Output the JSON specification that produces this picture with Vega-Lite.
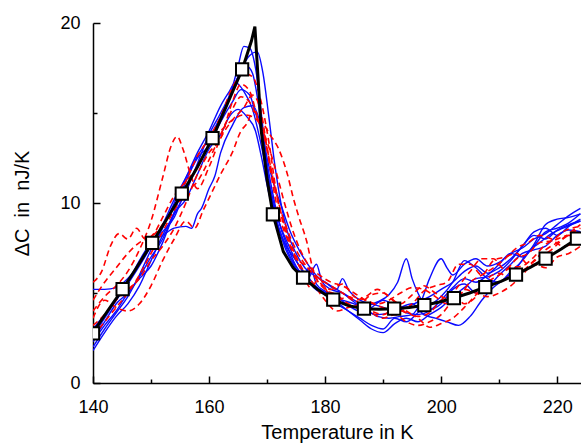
{
"$schema":"https://vega.github.io/schema/vega-lite/v6.json",
"width":488,"height":360,
"autosize":{"type":"none"},
"padding":{"left":93,"top":23,"right":0,"bottom":61},
"config":{"view":{"stroke":null},"axis":{"grid":false,"domainColor":"black","domainWidth":1.5,"tickColor":"black","tickWidth":1.5,"labelFont":"Liberation Sans","labelFontSize":18,"labelColor":"black","titleFont":"Liberation Sans","titleFontSize":20,"titleFontWeight":"normal","titleColor":"black"}},
"datasets":{
"curves":[
{"run":"b1","set":"A","T":140,"C":5.2},{"run":"b1","set":"A","T":142,"C":5.2},{"run":"b1","set":"A","T":144,"C":5.3},{"run":"b1","set":"A","T":146,"C":5.8},{"run":"b1","set":"A","T":148,"C":6.6},{"run":"b1","set":"A","T":150,"C":7.6},{"run":"b1","set":"A","T":152,"C":8.4},{"run":"b1","set":"A","T":154,"C":9.2},{"run":"b1","set":"A","T":156,"C":10.8},{"run":"b1","set":"A","T":158,"C":12.0},{"run":"b1","set":"A","T":160,"C":13.3},{"run":"b1","set":"A","T":162,"C":14.6},{"run":"b1","set":"A","T":164,"C":16.3},{"run":"b1","set":"A","T":165.5,"C":17.3},{"run":"b1","set":"A","T":166.5,"C":17.6},{"run":"b1","set":"A","T":167.5,"C":17.2},{"run":"b1","set":"A","T":168.5,"C":15.5},{"run":"b1","set":"A","T":169.5,"C":13.0},{"run":"b1","set":"A","T":170.5,"C":10.8},{"run":"b1","set":"A","T":171.5,"C":9.2},{"run":"b1","set":"A","T":173,"C":7.6},{"run":"b1","set":"A","T":174.5,"C":6.6},{"run":"b1","set":"A","T":176,"C":6.0},{"run":"b1","set":"A","T":177.5,"C":6.4},{"run":"b1","set":"A","T":178.5,"C":5.5},{"run":"b1","set":"A","T":180,"C":5.1},{"run":"b1","set":"A","T":182,"C":4.8},{"run":"b1","set":"A","T":184,"C":4.3},{"run":"b1","set":"A","T":186,"C":4.0},{"run":"b1","set":"A","T":188,"C":4.2},{"run":"b1","set":"A","T":190,"C":4.6},{"run":"b1","set":"A","T":192,"C":4.3},{"run":"b1","set":"A","T":194,"C":3.9},{"run":"b1","set":"A","T":196,"C":3.8},{"run":"b1","set":"A","T":198,"C":4.0},{"run":"b1","set":"A","T":200,"C":4.6},{"run":"b1","set":"A","T":202,"C":5.3},{"run":"b1","set":"A","T":204,"C":5.8},{"run":"b1","set":"A","T":206,"C":5.6},{"run":"b1","set":"A","T":208,"C":6.0},{"run":"b1","set":"A","T":210,"C":6.6},{"run":"b1","set":"A","T":212,"C":7.2},{"run":"b1","set":"A","T":214,"C":7.0},{"run":"b1","set":"A","T":216,"C":7.6},{"run":"b1","set":"A","T":218,"C":8.4},{"run":"b1","set":"A","T":220,"C":8.6},{"run":"b1","set":"A","T":222,"C":8.9},{"run":"b1","set":"A","T":224,"C":9.4},

{"run":"b2","set":"A","T":140,"C":1.8},{"run":"b2","set":"A","T":142,"C":2.8},{"run":"b2","set":"A","T":144,"C":3.7},{"run":"b2","set":"A","T":146,"C":4.4},{"run":"b2","set":"A","T":148,"C":5.4},{"run":"b2","set":"A","T":150,"C":6.8},{"run":"b2","set":"A","T":152,"C":8.2},{"run":"b2","set":"A","T":154,"C":9.4},{"run":"b2","set":"A","T":156,"C":10.6},{"run":"b2","set":"A","T":158,"C":12.2},{"run":"b2","set":"A","T":160,"C":13.8},{"run":"b2","set":"A","T":162,"C":15.0},{"run":"b2","set":"A","T":164,"C":16.4},{"run":"b2","set":"A","T":165,"C":17.6},{"run":"b2","set":"A","T":166,"C":18.7},{"run":"b2","set":"A","T":167,"C":18.6},{"run":"b2","set":"A","T":168,"C":17.5},{"run":"b2","set":"A","T":169,"C":15.0},{"run":"b2","set":"A","T":170,"C":12.0},{"run":"b2","set":"A","T":171,"C":10.0},{"run":"b2","set":"A","T":172,"C":8.6},{"run":"b2","set":"A","T":173.5,"C":7.5},{"run":"b2","set":"A","T":175,"C":6.8},{"run":"b2","set":"A","T":176.5,"C":6.0},{"run":"b2","set":"A","T":178,"C":5.3},{"run":"b2","set":"A","T":180,"C":4.9},{"run":"b2","set":"A","T":182,"C":4.5},{"run":"b2","set":"A","T":184,"C":4.0},{"run":"b2","set":"A","T":186,"C":3.5},{"run":"b2","set":"A","T":188,"C":3.0},{"run":"b2","set":"A","T":190,"C":2.8},{"run":"b2","set":"A","T":192,"C":3.3},{"run":"b2","set":"A","T":194,"C":3.6},{"run":"b2","set":"A","T":196,"C":3.4},{"run":"b2","set":"A","T":198,"C":3.8},{"run":"b2","set":"A","T":200,"C":4.2},{"run":"b2","set":"A","T":202,"C":4.8},{"run":"b2","set":"A","T":204,"C":5.3},{"run":"b2","set":"A","T":206,"C":5.8},{"run":"b2","set":"A","T":208,"C":5.9},{"run":"b2","set":"A","T":210,"C":6.2},{"run":"b2","set":"A","T":212,"C":6.8},{"run":"b2","set":"A","T":214,"C":7.6},{"run":"b2","set":"A","T":216,"C":8.2},{"run":"b2","set":"A","T":218,"C":8.0},{"run":"b2","set":"A","T":220,"C":8.5},{"run":"b2","set":"A","T":222,"C":8.8},{"run":"b2","set":"A","T":224,"C":9.0},

{"run":"b3","set":"A","T":140,"C":2.4},{"run":"b3","set":"A","T":142,"C":3.4},{"run":"b3","set":"A","T":144,"C":4.4},{"run":"b3","set":"A","T":146,"C":5.0},{"run":"b3","set":"A","T":148,"C":5.9},{"run":"b3","set":"A","T":150,"C":7.0},{"run":"b3","set":"A","T":152,"C":8.0},{"run":"b3","set":"A","T":154,"C":9.5},{"run":"b3","set":"A","T":156,"C":11.2},{"run":"b3","set":"A","T":158,"C":12.5},{"run":"b3","set":"A","T":160,"C":13.2},{"run":"b3","set":"A","T":162,"C":14.5},{"run":"b3","set":"A","T":164,"C":15.6},{"run":"b3","set":"A","T":165.5,"C":16.3},{"run":"b3","set":"A","T":167,"C":16.0},{"run":"b3","set":"A","T":168,"C":15.0},{"run":"b3","set":"A","T":169,"C":14.0},{"run":"b3","set":"A","T":170,"C":12.2},{"run":"b3","set":"A","T":171,"C":10.5},{"run":"b3","set":"A","T":172,"C":9.0},{"run":"b3","set":"A","T":173.5,"C":7.6},{"run":"b3","set":"A","T":175,"C":6.5},{"run":"b3","set":"A","T":177,"C":5.8},{"run":"b3","set":"A","T":178.5,"C":6.6},{"run":"b3","set":"A","T":179.5,"C":5.6},{"run":"b3","set":"A","T":181,"C":5.2},{"run":"b3","set":"A","T":183,"C":5.0},{"run":"b3","set":"A","T":185,"C":4.6},{"run":"b3","set":"A","T":187,"C":4.3},{"run":"b3","set":"A","T":189,"C":4.5},{"run":"b3","set":"A","T":191,"C":4.9},{"run":"b3","set":"A","T":192.5,"C":5.6},{"run":"b3","set":"A","T":194,"C":6.9},{"run":"b3","set":"A","T":195,"C":5.8},{"run":"b3","set":"A","T":196,"C":5.0},{"run":"b3","set":"A","T":198,"C":4.1},{"run":"b3","set":"A","T":200,"C":4.4},{"run":"b3","set":"A","T":202,"C":5.2},{"run":"b3","set":"A","T":204,"C":5.5},{"run":"b3","set":"A","T":206,"C":5.0},{"run":"b3","set":"A","T":208,"C":5.3},{"run":"b3","set":"A","T":210,"C":6.0},{"run":"b3","set":"A","T":212,"C":6.6},{"run":"b3","set":"A","T":214,"C":7.2},{"run":"b3","set":"A","T":216,"C":7.4},{"run":"b3","set":"A","T":218,"C":7.6},{"run":"b3","set":"A","T":220,"C":8.2},{"run":"b3","set":"A","T":222,"C":8.5},{"run":"b3","set":"A","T":224,"C":8.4},

{"run":"b4","set":"A","T":140,"C":3.0},{"run":"b4","set":"A","T":142,"C":3.8},{"run":"b4","set":"A","T":144,"C":4.6},{"run":"b4","set":"A","T":146,"C":5.6},{"run":"b4","set":"A","T":148,"C":6.8},{"run":"b4","set":"A","T":150,"C":7.8},{"run":"b4","set":"A","T":152,"C":8.2},{"run":"b4","set":"A","T":154,"C":8.6},{"run":"b4","set":"A","T":156,"C":8.7},{"run":"b4","set":"A","T":157,"C":8.6},{"run":"b4","set":"A","T":158,"C":9.4},{"run":"b4","set":"A","T":158.7,"C":9.7},{"run":"b4","set":"A","T":160,"C":10.8},{"run":"b4","set":"A","T":161,"C":11.5},{"run":"b4","set":"A","T":162,"C":12.8},{"run":"b4","set":"A","T":164,"C":14.3},{"run":"b4","set":"A","T":166,"C":15.3},{"run":"b4","set":"A","T":167.5,"C":15.4},{"run":"b4","set":"A","T":169,"C":14.2},{"run":"b4","set":"A","T":170,"C":12.5},{"run":"b4","set":"A","T":171,"C":11.2},{"run":"b4","set":"A","T":172.5,"C":9.8},{"run":"b4","set":"A","T":174,"C":8.4},{"run":"b4","set":"A","T":175.5,"C":7.4},{"run":"b4","set":"A","T":177,"C":6.6},{"run":"b4","set":"A","T":179,"C":5.8},{"run":"b4","set":"A","T":181,"C":5.4},{"run":"b4","set":"A","T":183,"C":5.0},{"run":"b4","set":"A","T":185,"C":4.5},{"run":"b4","set":"A","T":187,"C":4.0},{"run":"b4","set":"A","T":189,"C":3.8},{"run":"b4","set":"A","T":191,"C":3.9},{"run":"b4","set":"A","T":193,"C":4.2},{"run":"b4","set":"A","T":195,"C":4.4},{"run":"b4","set":"A","T":197,"C":3.8},{"run":"b4","set":"A","T":199,"C":3.6},{"run":"b4","set":"A","T":201,"C":3.4},{"run":"b4","set":"A","T":203,"C":3.2},{"run":"b4","set":"A","T":205,"C":3.7},{"run":"b4","set":"A","T":207,"C":4.6},{"run":"b4","set":"A","T":209,"C":5.3},{"run":"b4","set":"A","T":211,"C":5.8},{"run":"b4","set":"A","T":213,"C":6.4},{"run":"b4","set":"A","T":215,"C":7.3},{"run":"b4","set":"A","T":217,"C":7.8},{"run":"b4","set":"A","T":219,"C":8.3},{"run":"b4","set":"A","T":221,"C":8.6},{"run":"b4","set":"A","T":224,"C":9.0},

{"run":"b5","set":"A","T":140,"C":2.0},{"run":"b5","set":"A","T":142,"C":3.0},{"run":"b5","set":"A","T":144,"C":3.9},{"run":"b5","set":"A","T":146,"C":4.8},{"run":"b5","set":"A","T":148,"C":6.0},{"run":"b5","set":"A","T":150,"C":7.4},{"run":"b5","set":"A","T":152,"C":8.6},{"run":"b5","set":"A","T":154,"C":10.0},{"run":"b5","set":"A","T":156,"C":11.4},{"run":"b5","set":"A","T":158,"C":12.8},{"run":"b5","set":"A","T":160,"C":14.0},{"run":"b5","set":"A","T":162,"C":15.4},{"run":"b5","set":"A","T":163.5,"C":16.2},{"run":"b5","set":"A","T":164.5,"C":16.7},{"run":"b5","set":"A","T":166,"C":16.2},{"run":"b5","set":"A","T":167.5,"C":15.2},{"run":"b5","set":"A","T":169,"C":13.2},{"run":"b5","set":"A","T":170,"C":11.6},{"run":"b5","set":"A","T":171,"C":10.2},{"run":"b5","set":"A","T":172,"C":9.0},{"run":"b5","set":"A","T":173.5,"C":7.8},{"run":"b5","set":"A","T":175,"C":6.8},{"run":"b5","set":"A","T":177,"C":5.9},{"run":"b5","set":"A","T":179,"C":5.2},{"run":"b5","set":"A","T":181,"C":4.9},{"run":"b5","set":"A","T":183,"C":4.6},{"run":"b5","set":"A","T":185,"C":4.4},{"run":"b5","set":"A","T":187,"C":4.1},{"run":"b5","set":"A","T":189,"C":3.7},{"run":"b5","set":"A","T":191,"C":3.6},{"run":"b5","set":"A","T":193,"C":3.7},{"run":"b5","set":"A","T":195,"C":3.8},{"run":"b5","set":"A","T":196.5,"C":4.5},{"run":"b5","set":"A","T":198,"C":5.8},{"run":"b5","set":"A","T":200,"C":6.9},{"run":"b5","set":"A","T":201,"C":6.4},{"run":"b5","set":"A","T":202,"C":6.0},{"run":"b5","set":"A","T":204,"C":6.6},{"run":"b5","set":"A","T":206,"C":6.9},{"run":"b5","set":"A","T":208,"C":6.5},{"run":"b5","set":"A","T":210,"C":6.7},{"run":"b5","set":"A","T":212,"C":7.2},{"run":"b5","set":"A","T":214,"C":7.5},{"run":"b5","set":"A","T":216,"C":8.0},{"run":"b5","set":"A","T":218,"C":8.3},{"run":"b5","set":"A","T":220,"C":8.8},{"run":"b5","set":"A","T":222,"C":9.3},{"run":"b5","set":"A","T":224,"C":9.7},

{"run":"b6","set":"A","T":140,"C":2.6},{"run":"b6","set":"A","T":142,"C":3.6},{"run":"b6","set":"A","T":144,"C":4.6},{"run":"b6","set":"A","T":146,"C":5.5},{"run":"b6","set":"A","T":148,"C":6.5},{"run":"b6","set":"A","T":150,"C":7.6},{"run":"b6","set":"A","T":152,"C":8.8},{"run":"b6","set":"A","T":154,"C":10.2},{"run":"b6","set":"A","T":156,"C":11.4},{"run":"b6","set":"A","T":158,"C":12.6},{"run":"b6","set":"A","T":160,"C":13.6},{"run":"b6","set":"A","T":162,"C":14.8},{"run":"b6","set":"A","T":164,"C":16.2},{"run":"b6","set":"A","T":165.5,"C":17.4},{"run":"b6","set":"A","T":167,"C":18.2},{"run":"b6","set":"A","T":168.3,"C":18.4},{"run":"b6","set":"A","T":169.3,"C":17.2},{"run":"b6","set":"A","T":170.3,"C":14.8},{"run":"b6","set":"A","T":171.3,"C":12.2},{"run":"b6","set":"A","T":172.5,"C":9.8},{"run":"b6","set":"A","T":173.5,"C":8.4},{"run":"b6","set":"A","T":175,"C":7.2},{"run":"b6","set":"A","T":176.5,"C":6.4},{"run":"b6","set":"A","T":178,"C":6.0},{"run":"b6","set":"A","T":180,"C":5.6},{"run":"b6","set":"A","T":182,"C":5.2},{"run":"b6","set":"A","T":183,"C":5.8},{"run":"b6","set":"A","T":184,"C":5.2},{"run":"b6","set":"A","T":186,"C":4.6},{"run":"b6","set":"A","T":188,"C":4.4},{"run":"b6","set":"A","T":190,"C":4.2},{"run":"b6","set":"A","T":192,"C":4.0},{"run":"b6","set":"A","T":194,"C":4.2},{"run":"b6","set":"A","T":196,"C":4.5},{"run":"b6","set":"A","T":198,"C":4.8},{"run":"b6","set":"A","T":200,"C":5.2},{"run":"b6","set":"A","T":202,"C":5.6},{"run":"b6","set":"A","T":204,"C":6.2},{"run":"b6","set":"A","T":206,"C":6.5},{"run":"b6","set":"A","T":208,"C":6.1},{"run":"b6","set":"A","T":210,"C":6.4},{"run":"b6","set":"A","T":212,"C":6.9},{"run":"b6","set":"A","T":214,"C":7.6},{"run":"b6","set":"A","T":216,"C":8.4},{"run":"b6","set":"A","T":218,"C":8.6},{"run":"b6","set":"A","T":220,"C":8.2},{"run":"b6","set":"A","T":222,"C":8.7},{"run":"b6","set":"A","T":224,"C":9.1},

{"run":"b7","set":"A","T":140,"C":2.3},{"run":"b7","set":"A","T":142,"C":3.2},{"run":"b7","set":"A","T":144,"C":4.0},{"run":"b7","set":"A","T":146,"C":5.0},{"run":"b7","set":"A","T":148,"C":5.8},{"run":"b7","set":"A","T":150,"C":6.5},{"run":"b7","set":"A","T":152,"C":7.8},{"run":"b7","set":"A","T":154,"C":9.4},{"run":"b7","set":"A","T":156,"C":10.2},{"run":"b7","set":"A","T":158,"C":11.6},{"run":"b7","set":"A","T":160,"C":13.0},{"run":"b7","set":"A","T":162,"C":13.8},{"run":"b7","set":"A","T":163.5,"C":14.8},{"run":"b7","set":"A","T":165,"C":15.2},{"run":"b7","set":"A","T":166.5,"C":14.8},{"run":"b7","set":"A","T":168,"C":14.0},{"run":"b7","set":"A","T":169,"C":12.6},{"run":"b7","set":"A","T":170,"C":11.0},{"run":"b7","set":"A","T":171,"C":9.6},{"run":"b7","set":"A","T":172.5,"C":8.2},{"run":"b7","set":"A","T":174,"C":7.0},{"run":"b7","set":"A","T":176,"C":6.0},{"run":"b7","set":"A","T":178,"C":5.4},{"run":"b7","set":"A","T":180,"C":5.0},{"run":"b7","set":"A","T":182,"C":4.4},{"run":"b7","set":"A","T":184,"C":4.0},{"run":"b7","set":"A","T":186,"C":3.6},{"run":"b7","set":"A","T":188,"C":3.2},{"run":"b7","set":"A","T":190,"C":3.0},{"run":"b7","set":"A","T":192,"C":3.6},{"run":"b7","set":"A","T":194,"C":3.4},{"run":"b7","set":"A","T":196,"C":3.9},{"run":"b7","set":"A","T":198,"C":4.3},{"run":"b7","set":"A","T":200,"C":4.8},{"run":"b7","set":"A","T":202,"C":5.6},{"run":"b7","set":"A","T":204,"C":6.8},{"run":"b7","set":"A","T":206,"C":6.4},{"run":"b7","set":"A","T":208,"C":5.8},{"run":"b7","set":"A","T":210,"C":5.6},{"run":"b7","set":"A","T":212,"C":6.2},{"run":"b7","set":"A","T":214,"C":6.8},{"run":"b7","set":"A","T":216,"C":7.7},{"run":"b7","set":"A","T":218,"C":8.8},{"run":"b7","set":"A","T":220,"C":9.1},{"run":"b7","set":"A","T":222,"C":9.2},{"run":"b7","set":"A","T":224,"C":9.4},

{"run":"r1","set":"B","T":140,"C":4.0},{"run":"r1","set":"B","T":142,"C":4.8},{"run":"r1","set":"B","T":144,"C":5.4},{"run":"r1","set":"B","T":146,"C":6.2},{"run":"r1","set":"B","T":148,"C":7.4},{"run":"r1","set":"B","T":150,"C":9.0},{"run":"r1","set":"B","T":152,"C":11.4},{"run":"r1","set":"B","T":153.5,"C":13.2},{"run":"r1","set":"B","T":154.5,"C":13.7},{"run":"r1","set":"B","T":155.5,"C":13.0},{"run":"r1","set":"B","T":157,"C":11.4},{"run":"r1","set":"B","T":158,"C":10.8},{"run":"r1","set":"B","T":160,"C":12.0},{"run":"r1","set":"B","T":162,"C":13.6},{"run":"r1","set":"B","T":164,"C":14.6},{"run":"r1","set":"B","T":166,"C":15.3},{"run":"r1","set":"B","T":167.5,"C":16.0},{"run":"r1","set":"B","T":169,"C":15.0},{"run":"r1","set":"B","T":170,"C":13.0},{"run":"r1","set":"B","T":171,"C":11.0},{"run":"r1","set":"B","T":172,"C":9.4},{"run":"r1","set":"B","T":173.5,"C":8.0},{"run":"r1","set":"B","T":175,"C":7.0},{"run":"r1","set":"B","T":177,"C":6.4},{"run":"r1","set":"B","T":179,"C":5.6},{"run":"r1","set":"B","T":181,"C":5.2},{"run":"r1","set":"B","T":183,"C":5.5},{"run":"r1","set":"B","T":185,"C":4.8},{"run":"r1","set":"B","T":187,"C":4.6},{"run":"r1","set":"B","T":189,"C":4.3},{"run":"r1","set":"B","T":191,"C":4.1},{"run":"r1","set":"B","T":193,"C":4.0},{"run":"r1","set":"B","T":195,"C":4.4},{"run":"r1","set":"B","T":197,"C":5.1},{"run":"r1","set":"B","T":199,"C":5.4},{"run":"r1","set":"B","T":201,"C":5.6},{"run":"r1","set":"B","T":203,"C":6.6},{"run":"r1","set":"B","T":205,"C":6.6},{"run":"r1","set":"B","T":207,"C":6.0},{"run":"r1","set":"B","T":209,"C":6.8},{"run":"r1","set":"B","T":211,"C":7.0},{"run":"r1","set":"B","T":213,"C":7.2},{"run":"r1","set":"B","T":215,"C":6.6},{"run":"r1","set":"B","T":217,"C":7.0},{"run":"r1","set":"B","T":219,"C":7.4},{"run":"r1","set":"B","T":221,"C":8.0},{"run":"r1","set":"B","T":224,"C":8.6},

{"run":"r2","set":"B","T":140,"C":5.6},{"run":"r2","set":"B","T":141.5,"C":6.2},{"run":"r2","set":"B","T":143,"C":7.6},{"run":"r2","set":"B","T":144.5,"C":8.3},{"run":"r2","set":"B","T":146,"C":8.0},{"run":"r2","set":"B","T":147.5,"C":8.6},{"run":"r2","set":"B","T":149,"C":8.0},{"run":"r2","set":"B","T":150.5,"C":8.3},{"run":"r2","set":"B","T":152,"C":9.2},{"run":"r2","set":"B","T":154,"C":10.4},{"run":"r2","set":"B","T":156,"C":11.2},{"run":"r2","set":"B","T":158,"C":12.0},{"run":"r2","set":"B","T":160,"C":13.2},{"run":"r2","set":"B","T":162,"C":14.0},{"run":"r2","set":"B","T":164,"C":14.6},{"run":"r2","set":"B","T":166,"C":14.9},{"run":"r2","set":"B","T":167.5,"C":14.8},{"run":"r2","set":"B","T":169,"C":14.2},{"run":"r2","set":"B","T":170,"C":13.0},{"run":"r2","set":"B","T":171,"C":11.4},{"run":"r2","set":"B","T":172,"C":10.0},{"run":"r2","set":"B","T":173.5,"C":8.5},{"run":"r2","set":"B","T":175,"C":7.4},{"run":"r2","set":"B","T":177,"C":6.4},{"run":"r2","set":"B","T":179,"C":5.8},{"run":"r2","set":"B","T":181,"C":5.4},{"run":"r2","set":"B","T":183,"C":5.0},{"run":"r2","set":"B","T":185,"C":4.6},{"run":"r2","set":"B","T":187,"C":4.8},{"run":"r2","set":"B","T":189,"C":5.2},{"run":"r2","set":"B","T":191,"C":4.8},{"run":"r2","set":"B","T":193,"C":4.4},{"run":"r2","set":"B","T":195,"C":4.9},{"run":"r2","set":"B","T":197,"C":5.4},{"run":"r2","set":"B","T":199,"C":5.0},{"run":"r2","set":"B","T":201,"C":4.7},{"run":"r2","set":"B","T":203,"C":5.4},{"run":"r2","set":"B","T":205,"C":6.2},{"run":"r2","set":"B","T":207,"C":6.9},{"run":"r2","set":"B","T":209,"C":6.9},{"run":"r2","set":"B","T":211,"C":6.3},{"run":"r2","set":"B","T":213,"C":6.9},{"run":"r2","set":"B","T":215,"C":7.2},{"run":"r2","set":"B","T":217,"C":7.8},{"run":"r2","set":"B","T":219,"C":7.9},{"run":"r2","set":"B","T":221,"C":8.4},{"run":"r2","set":"B","T":224,"C":8.7},

{"run":"r3","set":"B","T":140,"C":3.6},{"run":"r3","set":"B","T":142,"C":4.6},{"run":"r3","set":"B","T":144,"C":4.2},{"run":"r3","set":"B","T":146,"C":4.0},{"run":"r3","set":"B","T":148,"C":4.4},{"run":"r3","set":"B","T":150,"C":5.4},{"run":"r3","set":"B","T":152,"C":6.8},{"run":"r3","set":"B","T":154,"C":8.0},{"run":"r3","set":"B","T":156,"C":9.0},{"run":"r3","set":"B","T":157.5,"C":8.6},{"run":"r3","set":"B","T":159,"C":9.6},{"run":"r3","set":"B","T":160.5,"C":10.6},{"run":"r3","set":"B","T":162,"C":11.6},{"run":"r3","set":"B","T":164,"C":12.8},{"run":"r3","set":"B","T":165.5,"C":14.0},{"run":"r3","set":"B","T":166.5,"C":14.4},{"run":"r3","set":"B","T":167.6,"C":15.1},{"run":"r3","set":"B","T":169,"C":14.6},{"run":"r3","set":"B","T":170.5,"C":13.8},{"run":"r3","set":"B","T":172,"C":13.0},{"run":"r3","set":"B","T":173.5,"C":11.6},{"run":"r3","set":"B","T":174.5,"C":10.3},{"run":"r3","set":"B","T":175.5,"C":9.2},{"run":"r3","set":"B","T":176.8,"C":7.9},{"run":"r3","set":"B","T":178,"C":6.2},{"run":"r3","set":"B","T":180,"C":5.2},{"run":"r3","set":"B","T":182,"C":4.9},{"run":"r3","set":"B","T":184,"C":4.4},{"run":"r3","set":"B","T":186,"C":4.2},{"run":"r3","set":"B","T":188,"C":3.9},{"run":"r3","set":"B","T":190,"C":3.6},{"run":"r3","set":"B","T":192,"C":3.8},{"run":"r3","set":"B","T":194,"C":3.4},{"run":"r3","set":"B","T":196,"C":3.2},{"run":"r3","set":"B","T":198,"C":3.4},{"run":"r3","set":"B","T":200,"C":3.8},{"run":"r3","set":"B","T":202,"C":4.6},{"run":"r3","set":"B","T":204,"C":5.2},{"run":"r3","set":"B","T":206,"C":5.0},{"run":"r3","set":"B","T":208,"C":4.8},{"run":"r3","set":"B","T":210,"C":5.0},{"run":"r3","set":"B","T":212,"C":5.4},{"run":"r3","set":"B","T":214,"C":6.0},{"run":"r3","set":"B","T":216,"C":6.6},{"run":"r3","set":"B","T":218,"C":6.4},{"run":"r3","set":"B","T":220,"C":7.0},{"run":"r3","set":"B","T":222,"C":7.2},{"run":"r3","set":"B","T":224,"C":7.6},

{"run":"r4","set":"B","T":140,"C":4.6},{"run":"r4","set":"B","T":142,"C":5.6},{"run":"r4","set":"B","T":144,"C":6.4},{"run":"r4","set":"B","T":146,"C":7.2},{"run":"r4","set":"B","T":148,"C":7.8},{"run":"r4","set":"B","T":150,"C":8.1},{"run":"r4","set":"B","T":152,"C":8.8},{"run":"r4","set":"B","T":154,"C":9.8},{"run":"r4","set":"B","T":156,"C":11.2},{"run":"r4","set":"B","T":158,"C":12.6},{"run":"r4","set":"B","T":160,"C":13.6},{"run":"r4","set":"B","T":162,"C":14.8},{"run":"r4","set":"B","T":164,"C":16.4},{"run":"r4","set":"B","T":166,"C":17.2},{"run":"r4","set":"B","T":167.5,"C":17.0},{"run":"r4","set":"B","T":169,"C":15.6},{"run":"r4","set":"B","T":170.5,"C":13.0},{"run":"r4","set":"B","T":171.5,"C":10.8},{"run":"r4","set":"B","T":173,"C":8.6},{"run":"r4","set":"B","T":174.5,"C":7.2},{"run":"r4","set":"B","T":176,"C":6.2},{"run":"r4","set":"B","T":177.5,"C":5.3},{"run":"r4","set":"B","T":179,"C":5.8},{"run":"r4","set":"B","T":180.5,"C":5.0},{"run":"r4","set":"B","T":182,"C":4.6},{"run":"r4","set":"B","T":184,"C":4.8},{"run":"r4","set":"B","T":186,"C":4.4},{"run":"r4","set":"B","T":188,"C":4.0},{"run":"r4","set":"B","T":190,"C":3.8},{"run":"r4","set":"B","T":192,"C":4.1},{"run":"r4","set":"B","T":194,"C":3.9},{"run":"r4","set":"B","T":196,"C":3.6},{"run":"r4","set":"B","T":198,"C":3.1},{"run":"r4","set":"B","T":200,"C":3.3},{"run":"r4","set":"B","T":202,"C":3.6},{"run":"r4","set":"B","T":204,"C":4.2},{"run":"r4","set":"B","T":206,"C":4.9},{"run":"r4","set":"B","T":208,"C":5.6},{"run":"r4","set":"B","T":210,"C":6.0},{"run":"r4","set":"B","T":212,"C":6.4},{"run":"r4","set":"B","T":214,"C":6.5},{"run":"r4","set":"B","T":216,"C":7.0},{"run":"r4","set":"B","T":218,"C":7.7},{"run":"r4","set":"B","T":220,"C":8.0},{"run":"r4","set":"B","T":222,"C":8.2},{"run":"r4","set":"B","T":224,"C":7.9},

{"run":"r5","set":"B","T":140,"C":3.2},{"run":"r5","set":"B","T":142,"C":3.8},{"run":"r5","set":"B","T":144,"C":4.6},{"run":"r5","set":"B","T":146,"C":5.2},{"run":"r5","set":"B","T":148,"C":5.8},{"run":"r5","set":"B","T":150,"C":6.8},{"run":"r5","set":"B","T":152,"C":7.6},{"run":"r5","set":"B","T":154,"C":8.6},{"run":"r5","set":"B","T":156,"C":10.0},{"run":"r5","set":"B","T":158,"C":11.6},{"run":"r5","set":"B","T":160,"C":12.8},{"run":"r5","set":"B","T":162,"C":13.6},{"run":"r5","set":"B","T":164,"C":15.6},{"run":"r5","set":"B","T":165.5,"C":16.6},{"run":"r5","set":"B","T":167,"C":16.2},{"run":"r5","set":"B","T":168.5,"C":14.6},{"run":"r5","set":"B","T":169.5,"C":13.8},{"run":"r5","set":"B","T":170.5,"C":12.2},{"run":"r5","set":"B","T":171.5,"C":10.6},{"run":"r5","set":"B","T":173,"C":8.8},{"run":"r5","set":"B","T":174.5,"C":7.4},{"run":"r5","set":"B","T":176,"C":6.4},{"run":"r5","set":"B","T":178,"C":5.5},{"run":"r5","set":"B","T":180,"C":4.6},{"run":"r5","set":"B","T":182,"C":4.0},{"run":"r5","set":"B","T":184,"C":4.2},{"run":"r5","set":"B","T":186,"C":4.4},{"run":"r5","set":"B","T":188,"C":4.9},{"run":"r5","set":"B","T":190,"C":5.0},{"run":"r5","set":"B","T":192,"C":4.5},{"run":"r5","set":"B","T":194,"C":4.0},{"run":"r5","set":"B","T":196,"C":3.7},{"run":"r5","set":"B","T":198,"C":3.9},{"run":"r5","set":"B","T":200,"C":4.6},{"run":"r5","set":"B","T":202,"C":5.0},{"run":"r5","set":"B","T":204,"C":4.4},{"run":"r5","set":"B","T":206,"C":4.8},{"run":"r5","set":"B","T":208,"C":5.8},{"run":"r5","set":"B","T":210,"C":6.1},{"run":"r5","set":"B","T":212,"C":5.8},{"run":"r5","set":"B","T":214,"C":6.2},{"run":"r5","set":"B","T":216,"C":6.8},{"run":"r5","set":"B","T":218,"C":7.4},{"run":"r5","set":"B","T":220,"C":7.8},{"run":"r5","set":"B","T":222,"C":8.3},{"run":"r5","set":"B","T":224,"C":8.8},

{"run":"r6","set":"B","T":140,"C":2.6},{"run":"r6","set":"B","T":142,"C":3.4},{"run":"r6","set":"B","T":144,"C":4.2},{"run":"r6","set":"B","T":146,"C":5.0},{"run":"r6","set":"B","T":148,"C":6.0},{"run":"r6","set":"B","T":150,"C":7.2},{"run":"r6","set":"B","T":152,"C":8.4},{"run":"r6","set":"B","T":154,"C":9.6},{"run":"r6","set":"B","T":156,"C":10.6},{"run":"r6","set":"B","T":158,"C":11.2},{"run":"r6","set":"B","T":160,"C":12.4},{"run":"r6","set":"B","T":162,"C":13.8},{"run":"r6","set":"B","T":164,"C":15.2},{"run":"r6","set":"B","T":165.5,"C":15.9},{"run":"r6","set":"B","T":167,"C":15.6},{"run":"r6","set":"B","T":168.5,"C":14.6},{"run":"r6","set":"B","T":170,"C":13.4},{"run":"r6","set":"B","T":171.5,"C":11.8},{"run":"r6","set":"B","T":173,"C":10.0},{"run":"r6","set":"B","T":174.5,"C":8.4},{"run":"r6","set":"B","T":176,"C":7.2},{"run":"r6","set":"B","T":177.5,"C":6.4},{"run":"r6","set":"B","T":179,"C":6.0},{"run":"r6","set":"B","T":181,"C":5.6},{"run":"r6","set":"B","T":183,"C":5.4},{"run":"r6","set":"B","T":185,"C":5.0},{"run":"r6","set":"B","T":187,"C":4.6},{"run":"r6","set":"B","T":189,"C":4.4},{"run":"r6","set":"B","T":191,"C":4.6},{"run":"r6","set":"B","T":193,"C":5.0},{"run":"r6","set":"B","T":195,"C":5.3},{"run":"r6","set":"B","T":197,"C":5.2},{"run":"r6","set":"B","T":199,"C":4.8},{"run":"r6","set":"B","T":201,"C":4.4},{"run":"r6","set":"B","T":203,"C":4.8},{"run":"r6","set":"B","T":205,"C":5.6},{"run":"r6","set":"B","T":207,"C":6.0},{"run":"r6","set":"B","T":209,"C":6.4},{"run":"r6","set":"B","T":211,"C":6.9},{"run":"r6","set":"B","T":213,"C":7.5},{"run":"r6","set":"B","T":215,"C":7.8},{"run":"r6","set":"B","T":217,"C":8.2},{"run":"r6","set":"B","T":219,"C":8.0},{"run":"r6","set":"B","T":221,"C":7.6},{"run":"r6","set":"B","T":224,"C":7.9}
],
"mean":[
{"T":140,"C":2.8},{"T":142.5,"C":4.0},{"T":145.1,"C":5.2},{"T":147.5,"C":6.4},{"T":150.2,"C":7.8},{"T":152.7,"C":9.1},{"T":155.3,"C":10.5},{"T":158,"C":12.0},{"T":160.6,"C":13.6},{"T":163,"C":15.4},{"T":165.7,"C":17.4},{"T":167.3,"C":19.0},{"T":167.9,"C":19.8},{"T":168.4,"C":17.2},{"T":169,"C":14.0},{"T":170,"C":11.3},{"T":171,"C":9.4},{"T":172.8,"C":7.3},{"T":174.5,"C":6.4},{"T":176.2,"C":5.85},{"T":178.7,"C":5.2},{"T":181.4,"C":4.63},{"T":184,"C":4.3},{"T":186.7,"C":4.13},{"T":189.3,"C":4.1},{"T":191.9,"C":4.13},{"T":194.5,"C":4.2},{"T":197.1,"C":4.32},{"T":199.7,"C":4.5},{"T":202.2,"C":4.72},{"T":204.9,"C":5.0},{"T":207.6,"C":5.33},{"T":210.3,"C":5.65},{"T":212.9,"C":6.02},{"T":215.5,"C":6.45},{"T":218,"C":6.91},{"T":220.7,"C":7.45},{"T":223.4,"C":8.02},{"T":224.5,"C":8.25}
],
"markers":[
{"T":140,"C":2.76},{"T":145.1,"C":5.22},{"T":150.2,"C":7.78},{"T":155.3,"C":10.52},{"T":160.6,"C":13.6},{"T":165.7,"C":17.43},{"T":171.0,"C":9.37},{"T":176.2,"C":5.85},{"T":181.4,"C":4.63},{"T":186.7,"C":4.13},{"T":191.9,"C":4.13},{"T":197.1,"C":4.32},{"T":202.2,"C":4.72},{"T":207.6,"C":5.33},{"T":212.9,"C":6.02},{"T":218.0,"C":6.91},{"T":223.4,"C":8.02}
]
},
"encoding":{
"x":{"field":"T","type":"quantitative","scale":{"domain":[140,224.1],"nice":false,"zero":false},
 "axis":{"title":"Temperature in K","values":[140,150,160,170,180,190,200,210,220],"labelExpr":"datum.value % 20 === 0 ? datum.label : ''","tickSize":{"condition":{"test":"datum.value % 20 === 0","value":-7},"value":-4},"labelPadding":22,"titlePadding":6,"labelFlush":false}},
"y":{"field":"C","type":"quantitative","scale":{"domain":[0,20],"nice":false},
 "axis":{"title":"ΔC\u00a0\u00a0in\u00a0\u00a0nJ/K","values":[0,5,10,15,20],"labelExpr":"datum.value % 10 === 0 ? datum.label : ''","tickSize":{"condition":{"test":"datum.value % 10 === 0","value":-7},"value":-4},"labelPadding":20,"titlePadding":27,"labelFlush":false}}
},
"layer":[
{"data":{"name":"curves"},"transform":[{"filter":"datum.set === 'A'"}],"mark":{"type":"line","clip":true,"stroke":"#0a0aff","strokeWidth":1.4,"interpolate":"monotone"},"encoding":{"detail":{"field":"run"}}},
{"data":{"name":"curves"},"transform":[{"filter":"datum.set === 'B'"}],"mark":{"type":"line","clip":true,"stroke":"#ff0000","strokeWidth":1.6,"strokeDash":[6,4],"interpolate":"monotone"},"encoding":{"detail":{"field":"run"}}},
{"data":{"name":"mean"},"mark":{"type":"line","clip":true,"stroke":"black","strokeWidth":3},"encoding":{}},
{"data":{"name":"markers"},"mark":{"type":"point","shape":"square","clip":true,"filled":true,"fill":"white","stroke":"black","strokeWidth":2,"size":150,"opacity":1},"encoding":{}}
]
}
